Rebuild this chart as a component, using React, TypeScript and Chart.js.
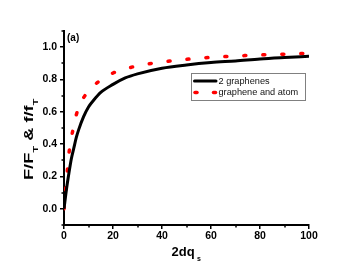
import React, { useEffect, useRef } from "react";
import { Chart, registerables } from "chart.js";

Chart.register(...registerables);

const grapheneX = [0, 1, 2, 3, 4, 5, 6, 8, 10, 12, 15, 20, 25, 30, 40, 50, 60, 70, 80, 90, 100];
const grapheneY = [0, 0.12, 0.22, 0.31, 0.375, 0.44, 0.49, 0.57, 0.63, 0.67, 0.72, 0.77, 0.81, 0.835, 0.87, 0.89, 0.905, 0.915, 0.927, 0.936, 0.944];

const atomX = [0, 0.5, 1, 1.5, 2, 3, 4, 5, 7, 9, 12, 16, 20, 25, 30, 40, 50, 60, 70, 80, 90, 100];
const atomY = [0, 0.09, 0.18, 0.26, 0.34, 0.44, 0.51, 0.58, 0.66, 0.71, 0.76, 0.807, 0.84, 0.865, 0.885, 0.908, 0.925, 0.937, 0.945, 0.952, 0.957, 0.962];

const xTicks = [0, 20, 40, 60, 80, 100];
const xMinorTicks = [10, 30, 50, 70, 90];
const yTicks = [0, 0.2, 0.4, 0.6, 0.8, 1.0];
const yMinorTicks = [-0.1, 0.1, 0.3, 0.5, 0.7, 0.9, 1.1];

const seriesLabels = ["2 graphenes", "graphene and atom"];
const panelLabel = "(a)";

const FONT = "Arial, 'Liberation Sans', sans-serif";

const overlayPlugin = {
  id: "overlay",
  afterDraw(chart: any) {
    const ctx = chart.ctx as CanvasRenderingContext2D;
    const xs = chart.scales.x;
    const ys = chart.scales.y;
    const area = chart.chartArea;
    ctx.save();
    // minor ticks
    ctx.strokeStyle = "#000";
    ctx.lineWidth = 1.5;
    ctx.beginPath();
    for (const v of xMinorTicks) {
      const px = Math.round(xs.getPixelForValue(v));
      ctx.moveTo(px, area.bottom);
      ctx.lineTo(px, area.bottom + 2.5);
    }
    for (const v of yMinorTicks) {
      const py = Math.round(ys.getPixelForValue(v));
      ctx.moveTo(area.left, py);
      ctx.lineTo(area.left - 2.5, py);
    }
    ctx.stroke();

    // panel label
    ctx.fillStyle = "#000";
    ctx.font = `bold 10px ${FONT}`;
    ctx.textAlign = "left";
    ctx.textBaseline = "alphabetic";
    ctx.fillText(panelLabel, 67, 40.5);

    // x title: 2dq_s
    ctx.font = `bold 13px ${FONT}`;
    ctx.fillText("2dq", 171.5, 255.5);
    const w = ctx.measureText("2dq").width;
    ctx.font = `bold 7px ${FONT}`;
    ctx.fillText("s", 171.5 + w + 2.5, 261);

    // y title: F/F_T & f/f_T (rotated)
    ctx.save();
    ctx.translate(33, 180);
    ctx.rotate(-Math.PI / 2);
    ctx.scale(1.4, 1);
    let cx = 0;
    const part = (t: string, sub: boolean) => {
      ctx.font = sub ? `bold 8px ${FONT}` : `bold 13px ${FONT}`;
      ctx.fillText(t, cx, sub ? 4.5 : 0);
      cx += ctx.measureText(t).width;
    };
    part("F/F", false);
    part("T", true);
    part(" & f/f", false);
    part("T", true);
    ctx.restore();

    // legend
    const lx = 191.5, ly = 73.5, lw = 114, lh = 27;
    ctx.fillStyle = "#fff";
    ctx.fillRect(lx, ly, lw, lh);
    ctx.strokeStyle = "#808080";
    ctx.lineWidth = 1;
    ctx.strokeRect(lx, ly, lw, lh);
    // entry 1
    ctx.strokeStyle = "#000";
    ctx.lineWidth = 3;
    ctx.lineCap = "round";
    ctx.beginPath();
    ctx.moveTo(194.5, 81);
    ctx.lineTo(216, 81);
    ctx.stroke();
    // entry 2 dots
    ctx.strokeStyle = "#ff0000";
    ctx.lineWidth = 3.5;
    for (const dx of [196, 214.5]) {
      ctx.beginPath();
      ctx.moveTo(dx - 1, 92.5);
      ctx.lineTo(dx + 1, 92.5);
      ctx.stroke();
    }
    ctx.fillStyle = "#111";
    ctx.font = `9.2px ${FONT}`;
    ctx.textBaseline = "middle";
    ctx.fillText(seriesLabels[0], 218.5, 81.5);
    ctx.fillText(seriesLabels[1], 218.5, 92.5);
    ctx.restore();
  },
};

export default function App() {
  const ref = useRef<HTMLCanvasElement>(null);
  useEffect(() => {
    if (!ref.current) return;
    const chart = new Chart(ref.current, {
      type: "scatter",
      data: {
        datasets: [
          {
            label: seriesLabels[0],
            data: grapheneX.map((x, i) => ({ x, y: grapheneY[i] })),
            showLine: true,
            borderColor: "#000",
            borderWidth: 3,
            pointRadius: 0,
            cubicInterpolationMode: "monotone",
          },
          {
            label: seriesLabels[1],
            data: atomX.map((x, i) => ({ x, y: atomY[i] })),
            showLine: true,
            borderColor: "#ff0000",
            borderWidth: 3.5,
            borderDash: [2, 17],
            borderCapStyle: "round",
            pointRadius: 0,
            cubicInterpolationMode: "monotone",
          },
        ],
      },
      options: {
        responsive: false,
        animation: false,
        devicePixelRatio: 1,
        layout: { padding: { left: 0, top: 31, right: 50, bottom: 0 } },
        plugins: { legend: { display: false }, tooltip: { enabled: false } },
        scales: {
          x: {
            type: "linear",
            min: 0,
            max: 100,
            afterBuildTicks: (s: any) => {
              s.ticks = xTicks.map((v) => ({ value: v }));
            },
            afterFit: (s: any) => {
              s.height = 45;
            },
            border: { display: true, color: "#000", width: 2 },
            grid: { display: true, drawOnChartArea: false, drawTicks: true, tickLength: 4, color: "#000", lineWidth: 1.5 },
            ticks: {
              color: "#000",
              font: { family: FONT, size: 10.5, weight: "bold" },
              padding: 1,
              maxRotation: 0,
              callback: (v: any) => String(v),
            },
          },
          y: {
            type: "linear",
            min: -0.1,
            max: 1.1,
            afterBuildTicks: (s: any) => {
              s.ticks = yTicks.map((v) => ({ value: v }));
            },
            afterFit: (s: any) => {
              s.width = 64;
            },
            border: { display: true, color: "#000", width: 2 },
            grid: { display: true, drawOnChartArea: false, drawTicks: true, tickLength: 4, color: "#000", lineWidth: 1.5 },
            ticks: {
              color: "#000",
              font: { family: FONT, size: 10.5, weight: "bold" },
              padding: 3,
              callback: (v: any) => Number(v).toFixed(1),
            },
          },
        },
      },
      plugins: [overlayPlugin],
    } as any);
    return () => chart.destroy();
  }, []);
  return (
    <div style={{ position: "absolute", left: 0, top: 0, width: 359, height: 270, background: "#fff" }}>
      <canvas ref={ref} width={359} height={270} style={{ width: 359, height: 270, display: "block" }} />
    </div>
  );
}
